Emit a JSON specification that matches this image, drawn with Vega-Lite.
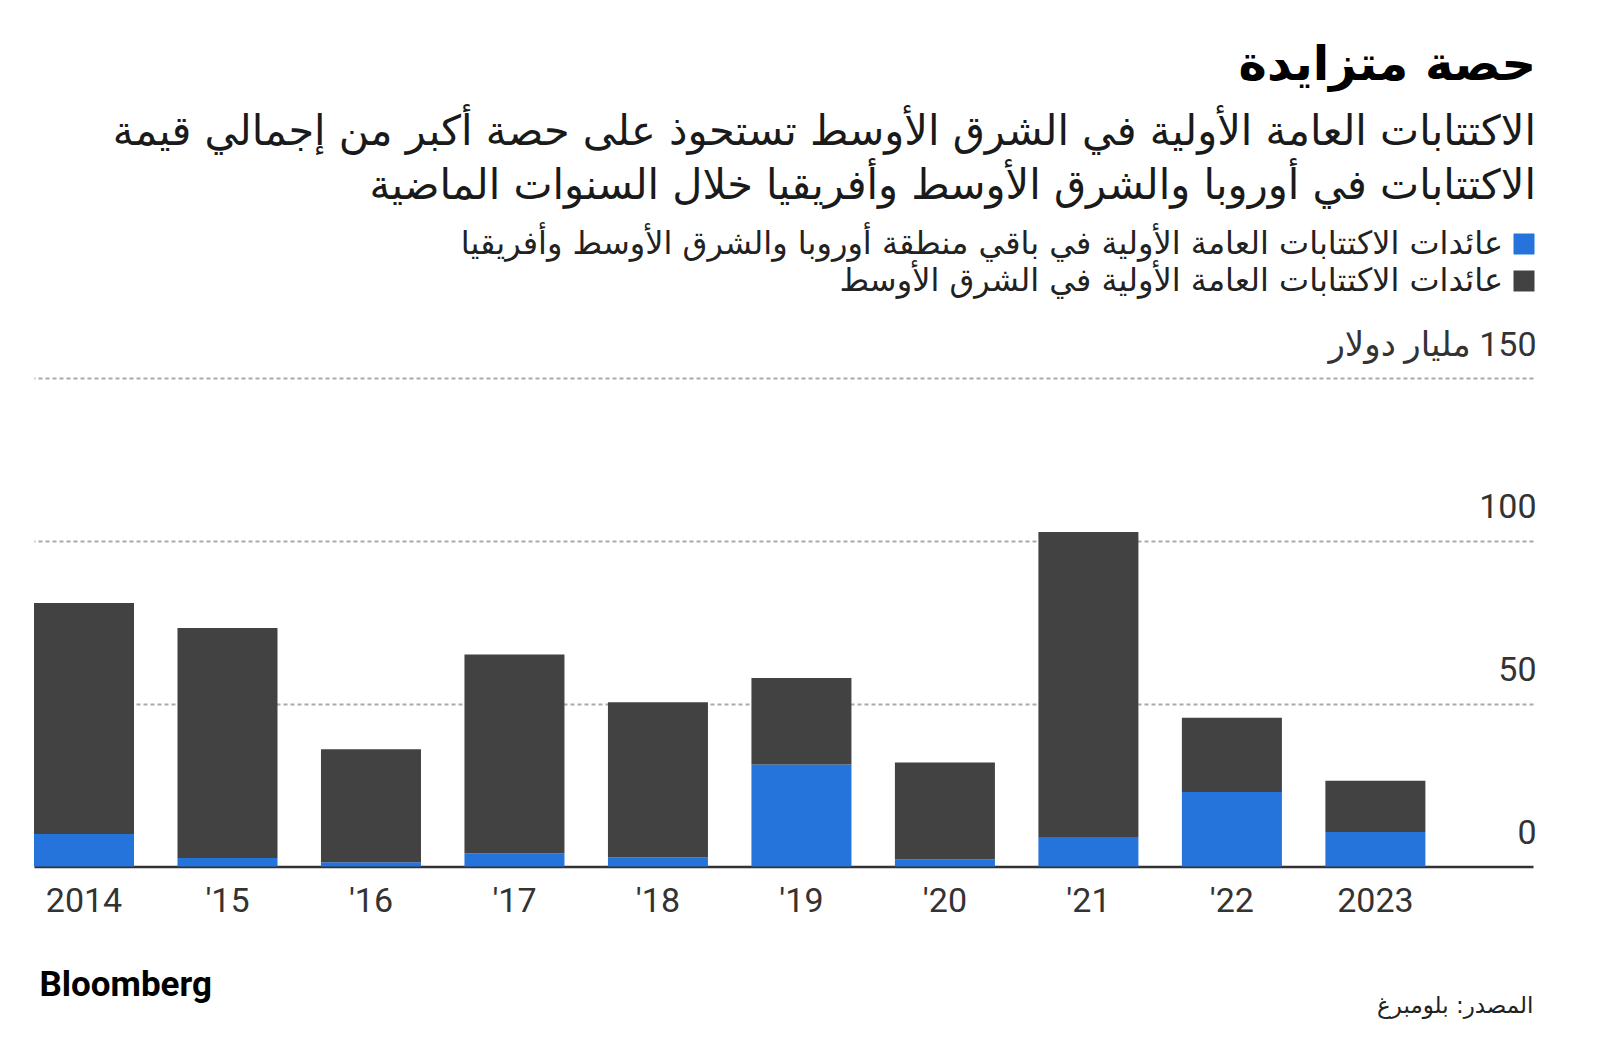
{
  "$schema": "https://vega.github.io/schema/vega-lite/v6.json",
  "width": 1499,
  "height": 488.5,
  "autosize": {"type": "none"},
  "padding": {"left": 34, "top": 378, "right": 67, "bottom": 175.5},
  "background": "white",
  "title": {
    "text": "حصة متزايدة",
    "subtitle": ["الاكتتابات العامة الأولية في الشرق الأوسط تستحوذ على حصة أكبر من إجمالي قيمة", "الاكتتابات في أوروبا والشرق الأوسط وأفريقيا خلال السنوات الماضية"],
    "anchor": "end",
    "frame": "group",
    "orient": "top",
    "offset": 21,
    "dx": 3,
    "font": "DejaVu Sans",
    "fontSize": 48,
    "fontWeight": "bold",
    "color": "#000000",
    "subtitleFont": "DejaVu Sans",
    "subtitleFontSize": 41.5,
    "subtitleFontWeight": "normal",
    "subtitleColor": "#1a1a1a",
    "subtitleLineHeight": 54,
    "subtitlePadding": 22
  },
  "data": {
    "values": [
      {"year": "2014", "series": "عائدات الاكتتابات العامة الأولية في باقي منطقة أوروبا والشرق الأوسط وأفريقيا", "value": 10.0},
      {"year": "2014", "series": "عائدات الاكتتابات العامة الأولية في الشرق الأوسط", "value": 70.9},
      {"year": "'15", "series": "عائدات الاكتتابات العامة الأولية في باقي منطقة أوروبا والشرق الأوسط وأفريقيا", "value": 2.6},
      {"year": "'15", "series": "عائدات الاكتتابات العامة الأولية في الشرق الأوسط", "value": 70.6},
      {"year": "'16", "series": "عائدات الاكتتابات العامة الأولية في باقي منطقة أوروبا والشرق الأوسط وأفريقيا", "value": 1.3},
      {"year": "'16", "series": "عائدات الاكتتابات العامة الأولية في الشرق الأوسط", "value": 34.7},
      {"year": "'17", "series": "عائدات الاكتتابات العامة الأولية في باقي منطقة أوروبا والشرق الأوسط وأفريقيا", "value": 4.1},
      {"year": "'17", "series": "عائدات الاكتتابات العامة الأولية في الشرق الأوسط", "value": 61.0},
      {"year": "'18", "series": "عائدات الاكتتابات العامة الأولية في باقي منطقة أوروبا والشرق الأوسط وأفريقيا", "value": 2.8},
      {"year": "'18", "series": "عائدات الاكتتابات العامة الأولية في الشرق الأوسط", "value": 47.6},
      {"year": "'19", "series": "عائدات الاكتتابات العامة الأولية في باقي منطقة أوروبا والشرق الأوسط وأفريقيا", "value": 31.3},
      {"year": "'19", "series": "عائدات الاكتتابات العامة الأولية في الشرق الأوسط", "value": 26.6},
      {"year": "'20", "series": "عائدات الاكتتابات العامة الأولية في باقي منطقة أوروبا والشرق الأوسط وأفريقيا", "value": 2.2},
      {"year": "'20", "series": "عائدات الاكتتابات العامة الأولية في الشرق الأوسط", "value": 29.7},
      {"year": "'21", "series": "عائدات الاكتتابات العامة الأولية في باقي منطقة أوروبا والشرق الأوسط وأفريقيا", "value": 8.8},
      {"year": "'21", "series": "عائدات الاكتتابات العامة الأولية في الشرق الأوسط", "value": 93.9},
      {"year": "'22", "series": "عائدات الاكتتابات العامة الأولية في باقي منطقة أوروبا والشرق الأوسط وأفريقيا", "value": 22.9},
      {"year": "'22", "series": "عائدات الاكتتابات العامة الأولية في الشرق الأوسط", "value": 22.8},
      {"year": "2023", "series": "عائدات الاكتتابات العامة الأولية في باقي منطقة أوروبا والشرق الأوسط وأفريقيا", "value": 10.6},
      {"year": "2023", "series": "عائدات الاكتتابات العامة الأولية في الشرق الأوسط", "value": 15.7}
    ]
  },
  "mark": {"type": "bar"},
  "encoding": {
    "x": {
      "field": "year",
      "type": "nominal",
      "sort": null,
      "scale": {"paddingInner": 0.303, "paddingOuter": 0.375, "align": 0},
      "axis": {
        "title": "المصدر: بلومبرغ",
        "titleFont": "DejaVu Sans",
        "titleFontSize": 23,
        "titleFontWeight": "normal",
        "titleColor": "#222222",
        "titleAlign": "right",
        "titleAnchor": "end",
        "titleX": 1499,
        "titleY": 139,
        "titleBaseline": "middle",
        "labelAngle": 0,
        "labelFont": "Roboto",
        "labelFontSize": 34,
        "labelColor": "#333333",
        "labelPadding": 18,
        "ticks": false,
        "domainColor": "#333333",
        "domainWidth": 2.5,
        "grid": false
      }
    },
    "y": {
      "field": "value",
      "type": "quantitative",
      "stack": "zero",
      "scale": {"domain": [0, 150], "nice": false},
      "axis": {
        "orient": "right",
        "title": "Bloomberg",
        "titleAngle": 0,
        "titleX": -1494,
        "titleY": 617,
        "titleAlign": "left",
        "titleBaseline": "alphabetic",
        "titleFont": "Roboto",
        "titleFontSize": 35,
        "titleFontWeight": "bold",
        "titleColor": "#000000",
        "values": [0, 50, 100, 150],
        "labelExpr": "datum.value === 150 ? '\u200F150 مليار دولار' : datum.label",
        "labelAlign": "right",
        "labelBaseline": "middle",
        "labelOffset": -33,
        "labelPadding": 3,
        "labelFlush": false,
        "labelLimit": 500,
        "labelFont": "Roboto, 'DejaVu Sans'",
        "labelFontSize": 34,
        "labelColor": "#333333",
        "ticks": false,
        "domain": false,
        "grid": true,
        "gridDash": [4, 3],
        "gridColor": "#aaaaaa",
        "gridWidth": 2,
        "gridOpacity": {"condition": {"test": "datum.value === 0", "value": 0}, "value": 1}
      }
    },
    "color": {
      "field": "series",
      "type": "nominal",
      "scale": {
        "domain": ["عائدات الاكتتابات العامة الأولية في باقي منطقة أوروبا والشرق الأوسط وأفريقيا", "عائدات الاكتتابات العامة الأولية في الشرق الأوسط"],
        "range": ["#2574dc", "#424242"]
      },
      "legend": {
        "orient": "none",
        "legendX": 1474,
        "legendY": -150,
        "title": null,
        "direction": "vertical",
        "symbolType": "square",
        "symbolSize": 441,
        "symbolStrokeWidth": 0,
        "symbolOpacity": 1,
        "labelAlign": "right",
        "labelOffset": -37,
        "labelFont": "DejaVu Sans",
        "labelFontSize": 32,
        "labelColor": "#222222",
        "labelLimit": 2000,
        "rowPadding": 5,
        "padding": 0,
        "labelBaseline": "middle"
      }
    },
    "order": {"field": "series", "sort": "descending"}
  },
  "config": {"view": {"stroke": null}}
}
